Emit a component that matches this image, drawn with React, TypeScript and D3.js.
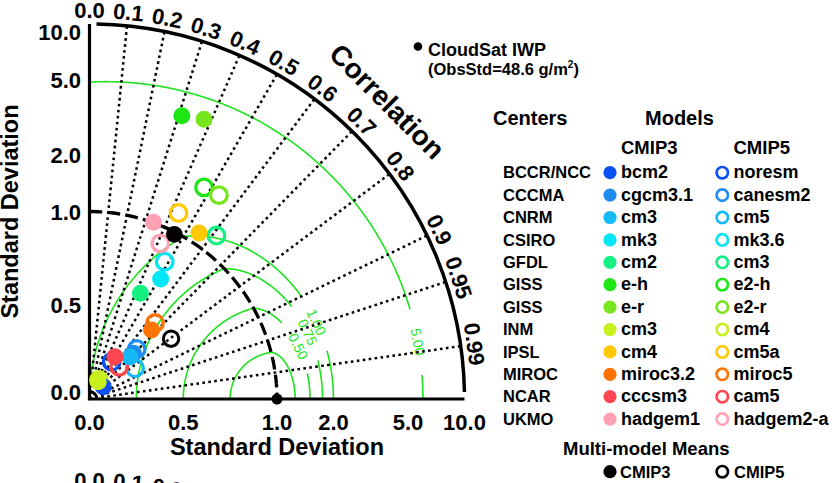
import React from "react";
import * as d3 from "d3";

// ---------------- data ----------------
const centers = ["BCCR/NCC", "CCCMA", "CNRM", "CSIRO", "GFDL", "GISS", "GISS", "INM", "IPSL", "MIROC", "NCAR", "UKMO"];
const cmip3Models = ["bcm2", "cgcm3.1", "cm3", "mk3", "cm2", "e-h", "e-r", "cm3", "cm4", "miroc3.2", "cccsm3", "hadgem1"];
const cmip5Models = ["noresm", "canesm2", "cm5", "mk3.6", "cm3", "e2-h", "e2-r", "cm4", "cm5a", "miroc5", "cam5", "hadgem2-a"];
const centerColors = ["#0a50f5", "#1e8cf0", "#14b9f5", "#00e6f5", "#14f082", "#1ee614", "#78e61e", "#c8f01e", "#ffc800", "#ff7305", "#ff4650", "#ffa0b4"];

// normalized standard deviation and correlation
const cmip3Std = [0.0985, 0.338, 0.311, 0.744, 0.626, 3.88, 4.09, 0.1035, 1.15, 0.495, 0.263, 1.005];
const cmip3Corr = [0.747, 0.692, 0.694, 0.51, 0.434, 0.31, 0.379, 0.453, 0.5506, 0.668, 0.516, 0.34];
const cmip5Std = [0.2315, 0.367, 0.293, 0.835, 1.27, 1.92, 1.94, 0.113, 1.258, 0.535, 0.234, 0.912];
const cmip5Corr = [0.511, 0.686, 0.829, 0.4805, 0.6135, 0.476, 0.536, 0.447, 0.4316, 0.653, 0.678, 0.414];

const meanLabels = ["CMIP3", "CMIP5"];
const meanStd = [0.988, 0.541];
const meanCorr = [0.458, 0.804];

const corrTicks = [0, 0.1, 0.2, 0.3, 0.4, 0.5, 0.6, 0.7, 0.8, 0.9, 0.95, 0.99];
const corrTickLabels = ["0.0", "0.1", "0.2", "0.3", "0.4", "0.5", "0.6", "0.7", "0.8", "0.9", "0.95", "0.99"];
const stdTicks = [0, 0.5, 1, 2, 5, 10];
const stdTickLabels = ["0.0", "0.5", "1.0", "2.0", "5.0", "10.0"];
const rmsLevels = [0.25, 0.5, 0.75, 1.0, 5.0];
const rmsLabels = ["", "0.50", "0.75", "1.00", "5.00"];

// ---------------- layout ----------------
const W = 832, H = 483;
const OX = 89.5, OY = 399, R1 = 187.5, RMAX = 2 * R1;
const FONT = "'Liberation Sans', Arial, Helvetica, sans-serif";
const GREEN = "#1de41d";
const rmsLabelDeg = [0, 14.1, 17.0, 18.7, 9.85];
const rmsGap = [0, 28.5, 30, 30, 33];

const linR = d3.scaleLinear().domain([0, 1]).range([0, R1]);
const logR = d3.scaleLog().domain([1, 10]).range([R1, RMAX]);
const rScale = (s: number) => (s <= 1 ? linR(s) : logR(s));
const polar = (r: number, th: number): [number, number] => [OX + r * Math.cos(th), OY - r * Math.sin(th)];
const pt = (s: number, c: number) => polar(rScale(s), Math.acos(Math.max(-1, Math.min(1, c))));

function contour(d: number, labelDeg: number, gap: number) {
  const phiMax = d > 1 ? Math.acos(-1 / d) : Math.PI;
  const N = 900;
  const pts: [number, number][] = [];
  const ths: number[] = [];
  for (let i = 0; i <= N; i++) {
    const phi = (phiMax * i) / N;
    const x = Math.max(0, 1 + d * Math.cos(phi));
    const y = d * Math.sin(phi);
    const s = Math.hypot(x, y);
    const th = Math.atan2(y, x);
    pts.push(polar(rScale(s), th));
    ths.push(th);
  }
  const len: number[] = [0];
  for (let i = 1; i < pts.length; i++) len.push(len[i - 1] + Math.hypot(pts[i][0] - pts[i - 1][0], pts[i][1] - pts[i - 1][1]));
  const line = d3.line();
  if (!labelDeg) return { paths: [line(pts) as string], label: null };
  const lr = (labelDeg * Math.PI) / 180;
  let li = ths.findIndex((t) => t >= lr);
  if (li < 1) li = 1;
  const L = len[li];
  const a = pts.filter((_, i) => len[i] < L - gap);
  const b = pts.filter((_, i) => len[i] > L + gap);
  const p0 = pts[li - 1], p1 = pts[Math.min(li + 1, pts.length - 1)];
  let ang = (Math.atan2(p1[1] - p0[1], p1[0] - p0[0]) * 180) / Math.PI;
  if (ang > 90) ang -= 180;
  if (ang < -90) ang += 180;
  return { paths: [line(a) as string, line(b) as string], label: { x: pts[li][0], y: pts[li][1], ang } };
}

function CorrLabels({ dy }: { dy: number }) {
  return (
    <g transform={`translate(0,${dy})`}>
      {corrTicks.map((c, i) => {
        const th = Math.acos(c);
        const [x, y] = polar(RMAX + 6, th);
        const rot = 90 - (th * 180) / Math.PI;
        return (
          <text key={i} transform={`translate(${x},${y}) rotate(${rot})`} textAnchor="middle" fontSize={22} fontWeight="bold" fontFamily={FONT}>
            {corrTickLabels[i]}
          </text>
        );
      })}
    </g>
  );
}

export default function App() {
  const arcOuter = d3.arc()({ innerRadius: RMAX, outerRadius: RMAX, startAngle: (Math.PI / 2) - Math.asin(7 / RMAX), endAngle: Math.asin(7 / RMAX) } as any);
  const arcObs = d3.arc()({ innerRadius: R1, outerRadius: R1, startAngle: 0, endAngle: Math.PI / 2 } as any);
  const rowY = (i: number) => 178.3 + 22.4 * i;
  const obs = pt(1, 1);
  return (
    <svg width={W} height={H} style={{ position: "absolute", left: 0, top: 0, background: "#fff" }} fontFamily={FONT}>
      {/* RMS contours */}
      {rmsLevels.map((d, i) => {
        const c = contour(d, rmsLabelDeg[i], rmsGap[i]);
        return (
          <g key={"rms" + i}>
            {c.paths.map((p, j) => (
              <path key={j} d={p} fill="none" stroke={GREEN} strokeWidth={1.6} />
            ))}
            {c.label && (
              <text transform={`translate(${c.label.x},${c.label.y}) rotate(${c.label.ang})`} textAnchor="middle" dy="0.35em" fontSize={14} fill={GREEN}>
                {rmsLabels[i]}
              </text>
            )}
          </g>
        );
      })}
      {/* correlation lines */}
      {corrTicks.slice(1).map((c, i) => {
        const [x, y] = pt(10, c);
        return <line key={"cl" + i} x1={OX} y1={OY} x2={x} y2={y} stroke="#000" strokeWidth={2.5} strokeDasharray="2.6,3.4" />;
      })}
      {/* obs std arc */}
      <path d={arcObs as string} transform={`translate(${OX},${OY})`} fill="none" stroke="#000" strokeWidth={3.3} strokeDasharray="9,9" />
      {/* axes */}
      <line x1={OX} y1={OY} x2={OX} y2={OY - RMAX} stroke="#000" strokeWidth={3.2} />
      <line x1={OX - 1.6} y1={OY} x2={OX + RMAX} y2={OY} stroke="#000" strokeWidth={3.2} />
      <path d={arcOuter as string} transform={`translate(${OX},${OY})`} fill="none" stroke="#000" strokeWidth={3.5} />
      {/* std tick labels */}
      {stdTicks.map((s, i) => {
        const r = rScale(s);
        const yc = Math.min(OY - 7, Math.max(OY - RMAX + 7.7, OY - r));
        return (
          <g key={"st" + i} fontSize={22} fontWeight="bold">
            <text x={OX + r} y={430} textAnchor="middle">{stdTickLabels[i]}</text>
            <text x={81} y={yc + 8} textAnchor="end">{stdTickLabels[i]}</text>
          </g>
        );
      })}
      <text x={OX + R1} y={455} textAnchor="middle" fontSize={23.5} fontWeight="bold">Standard Deviation</text>
      <text transform={`translate(18.3,${OY - R1}) rotate(-90)`} textAnchor="middle" fontSize={23.5} fontWeight="bold">Standard Deviation</text>
      <CorrLabels dy={0} />
      <CorrLabels dy={470} />
      {(() => {
        const [x, y] = polar(RMAX + 46, Math.PI / 4);
        return (
          <text transform={`translate(${x},${y}) rotate(45)`} textAnchor="middle" dy="0.35em" fontSize={28} fontWeight="bold">Correlation</text>
        );
      })()}
      {/* model points */}
      {cmip5Std.map((s, i) => {
        const [x, y] = pt(s, cmip5Corr[i]);
        return <circle key={"c5" + i} cx={x} cy={y} r={8.3} fill="none" stroke={centerColors[i]} strokeWidth={3.3} />;
      })}
      {cmip3Std.map((s, i) => {
        const [x, y] = pt(s, cmip3Corr[i]);
        return <circle key={"c3" + i} cx={x} cy={y} r={8.5} fill={centerColors[i]} />;
      })}
      {meanStd.map((s, i) => {
        const [x, y] = pt(s, meanCorr[i]);
        return i === 0 ? <circle key={"m" + i} cx={x} cy={y} r={8.4} fill="#000" /> : <circle key={"m" + i} cx={x} cy={y} r={7.7} fill="none" stroke="#000" strokeWidth={3} />;
      })}
      <circle cx={obs[0]} cy={obs[1]} r={5.5} fill="#000" />
      {/* observation legend */}
      <circle cx={418} cy={46.5} r={4.3} fill="#000" />
      <text x={428} y={56} fontSize={18} fontWeight="bold">CloudSat IWP</text>
      <text x={428} y={75} fontSize={16.5} fontWeight="bold">
        (ObsStd=48.6 g/m<tspan dy={-7} fontSize={10}>2</tspan><tspan dy={7}>)</tspan>
      </text>
      {/* legend */}
      <g fontWeight="bold">
        <text x={493} y={125} fontSize={20}>Centers</text>
        <text x={645} y={125} fontSize={20}>Models</text>
        <text x={621} y={154} fontSize={18.5}>CMIP3</text>
        <text x={733.5} y={154} fontSize={18.5}>CMIP5</text>
        {centers.map((c, i) => (
          <g key={"lg" + i}>
            <text x={503} y={rowY(i)} fontSize={16.5}>{c}</text>
            <circle cx={610} cy={rowY(i) - 5.6} r={6.6} fill={centerColors[i]} />
            <text x={621} y={rowY(i)} fontSize={18}>{cmip3Models[i]}</text>
            <circle cx={722.3} cy={rowY(i) - 5.6} r={5.7} fill="none" stroke={centerColors[i]} strokeWidth={2.7} />
            <text x={733.5} y={rowY(i)} fontSize={18}>{cmip5Models[i]}</text>
          </g>
        ))}
        <text x={563} y={455} fontSize={18.5}>Multi-model Means</text>
        <circle cx={610} cy={471.7} r={6.6} fill="#000" />
        <text x={620} y={478.3} fontSize={16.5}>{meanLabels[0]}</text>
        <circle cx={722.3} cy={471.7} r={5.7} fill="none" stroke="#000" strokeWidth={2.7} />
        <text x={734} y={478.3} fontSize={16.5}>{meanLabels[1]}</text>
      </g>
    </svg>
  );
}
